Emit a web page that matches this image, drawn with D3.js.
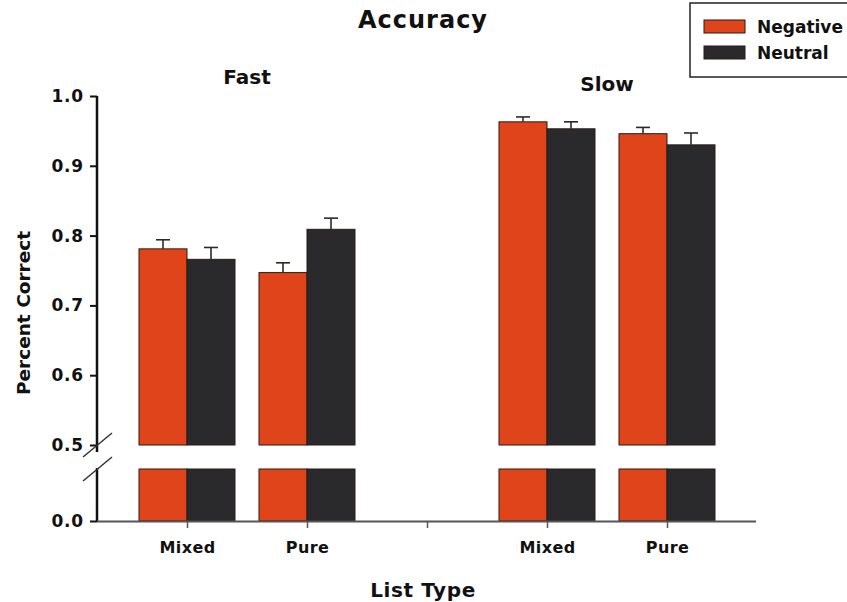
<!DOCTYPE html>
<html>
<head>
<meta charset="utf-8">
<script src="https://cdn.jsdelivr.net/npm/d3@7"></script>
<style>
  body { margin: 0; background: #fff; }
  text { font-family: "DejaVu Sans", "Liberation Sans", Arial, sans-serif; font-weight: bold; fill: #111; }
</style>
</head>
<body>
<svg id="chart" width="847" height="602"></svg>
<script>
// ---- data ----
const groups = ["Fast", "Slow"];
const listTypes = ["Mixed", "Pure"];
const series = ["Negative", "Neutral"];
const negativeValues = [0.781, 0.747, 0.963, 0.946];   // Fast-Mixed, Fast-Pure, Slow-Mixed, Slow-Pure
const neutralValues  = [0.766, 0.809, 0.953, 0.930];
const negativeErrors = [0.013, 0.014, 0.007, 0.009];
const neutralErrors  = [0.017, 0.016, 0.010, 0.017];
const upperTicks = [0.5, 0.6, 0.7, 0.8, 0.9, 1.0];
const lowerTicks = [0.0];
const colors = { Negative: "#e0441b", Neutral: "#2a2a2d" };

const FONT = "'DejaVu Sans', 'Liberation Sans', Arial, sans-serif";
const svg = d3.select("#chart");

// slots along x: Fast-Mixed, Fast-Pure, gap, Slow-Mixed, Slow-Pure
const slots = ["Fast|Mixed", "Fast|Pure", "gap", "Slow|Mixed", "Slow|Pure"];
const x = d3.scalePoint().domain(slots).range([187, 667]);
const barW = 48;

const yUp = d3.scaleLinear().domain([0.5, 1.0]).range([445, 96]);
const yLow = d3.scaleLinear().domain([0.0, 0.5]).range([521, 469]);

const rows = [];
groups.forEach((g, gi) => listTypes.forEach((l, li) => {
  const i = gi * 2 + li;
  rows.push({ slot: g + "|" + l, label: l, series: "Negative", v: negativeValues[i], e: negativeErrors[i], off: -barW });
  rows.push({ slot: g + "|" + l, label: l, series: "Neutral", v: neutralValues[i], e: neutralErrors[i], off: 0 });
}));

// bars: upper part
svg.append("g").selectAll("rect").data(rows).join("rect")
  .attr("x", d => x(d.slot) + d.off)
  .attr("y", d => yUp(d.v))
  .attr("width", barW)
  .attr("height", d => yUp(0.5) - yUp(d.v))
  .attr("fill", d => colors[d.series])
  .attr("stroke", "#2a1a14").attr("stroke-width", 1);
// bars: lower part
svg.append("g").selectAll("rect").data(rows).join("rect")
  .attr("x", d => x(d.slot) + d.off)
  .attr("y", yLow(0.5))
  .attr("width", barW)
  .attr("height", yLow(0) - yLow(0.5))
  .attr("fill", d => colors[d.series])
  .attr("stroke", "#2a1a14").attr("stroke-width", 1);

// error bars (upper only)
const eg = svg.append("g").attr("stroke", "#2a2a2a").attr("stroke-width", 1.6);
rows.forEach(d => {
  const cx = x(d.slot) + d.off + barW / 2;
  eg.append("line").attr("x1", cx).attr("x2", cx).attr("y1", yUp(d.v)).attr("y2", yUp(d.v + d.e));
  eg.append("line").attr("x1", cx - 7).attr("x2", cx + 7).attr("y1", yUp(d.v + d.e)).attr("y2", yUp(d.v + d.e));
});

// y axes
const axUp = svg.append("g").attr("transform", "translate(97,0)")
  .call(d3.axisLeft(yUp).tickValues(upperTicks).tickFormat(d3.format(".1f")).tickSize(7).tickSizeOuter(0));
const axLow = svg.append("g").attr("transform", "translate(97,0)")
  .call(d3.axisLeft(yLow).tickValues(lowerTicks).tickFormat(d3.format(".1f")).tickSize(7).tickSizeOuter(0));
[axUp, axLow].forEach(a => {
  a.select(".domain").attr("stroke", "#111").attr("stroke-width", 2.5);
  a.selectAll(".tick line").attr("stroke", "#111").attr("stroke-width", 2);
  a.selectAll(".tick text").attr("x", -13).attr("font-size", 17).attr("fill", "#111")
    .style("letter-spacing", "0.8px")
    .style("font-family", FONT).style("font-weight", "bold");
});
axUp.select(".domain").attr("d", `M0,${yUp(1.0)}V${yUp(0.5) + 7}`);
axLow.select(".domain").attr("d", `M0,${yLow(0.5) - 1}V${yLow(0)}`);

// break marks
const bk = svg.append("g").attr("stroke", "#333").attr("stroke-width", 1.5);
bk.append("line").attr("x1", 83).attr("y1", 457).attr("x2", 112).attr("y2", 433);
bk.append("line").attr("x1", 83).attr("y1", 481).attr("x2", 112).attr("y2", 457);

// x axis
const xAxis = svg.append("g").attr("transform", `translate(0,${yLow(0)})`)
  .call(d3.axisBottom(x).tickSize(7).tickSizeOuter(0).tickFormat(d => d === "gap" ? "" : d.split("|")[1]));
xAxis.select(".domain").attr("d", "M97,0.5H756").attr("stroke", "#555").attr("stroke-width", 2);
xAxis.selectAll(".tick line").attr("stroke", "#555").attr("stroke-width", 1.5);
xAxis.selectAll(".tick text").attr("y", 27).attr("dy", "0.32em").attr("font-size", 16).attr("fill", "#111")
  .style("letter-spacing", "0.4px")
  .style("font-family", FONT).style("font-weight", "bold");

// titles
svg.append("text").attr("x", 423).attr("y", 28).attr("text-anchor", "middle").attr("font-size", 24)
  .style("letter-spacing", "1px").text("Accuracy");
svg.append("text").attr("x", (x("Fast|Mixed") + x("Fast|Pure")) / 2).attr("y", 84).attr("text-anchor", "middle").attr("font-size", 20).text(groups[0]);
svg.append("text").attr("x", (x("Slow|Mixed") + x("Slow|Pure")) / 2).attr("y", 91).attr("text-anchor", "middle").attr("font-size", 20).text(groups[1]);
svg.append("text").attr("x", 423).attr("y", 597).attr("text-anchor", "middle").attr("font-size", 20)
  .style("letter-spacing", "0.6px").text("List Type");
svg.append("text").attr("transform", "translate(30,313) rotate(-90)").attr("text-anchor", "middle").attr("font-size", 18.5).text("Percent Correct");

// legend
const lg = svg.append("g");
lg.append("rect").attr("x", 690).attr("y", 3).attr("width", 170).attr("height", 74)
  .attr("fill", "#fff").attr("stroke", "#222").attr("stroke-width", 1.5);
series.forEach((s, i) => {
  lg.append("rect").attr("x", 704).attr("y", 20 + i * 26).attr("width", 41).attr("height", 13)
    .attr("fill", colors[s]).attr("stroke", "#2a1a14").attr("stroke-width", 1);
  lg.append("text").attr("x", 757).attr("y", 33 + i * 26).attr("font-size", 17).text(s);
});
</script>
</body>
</html>
